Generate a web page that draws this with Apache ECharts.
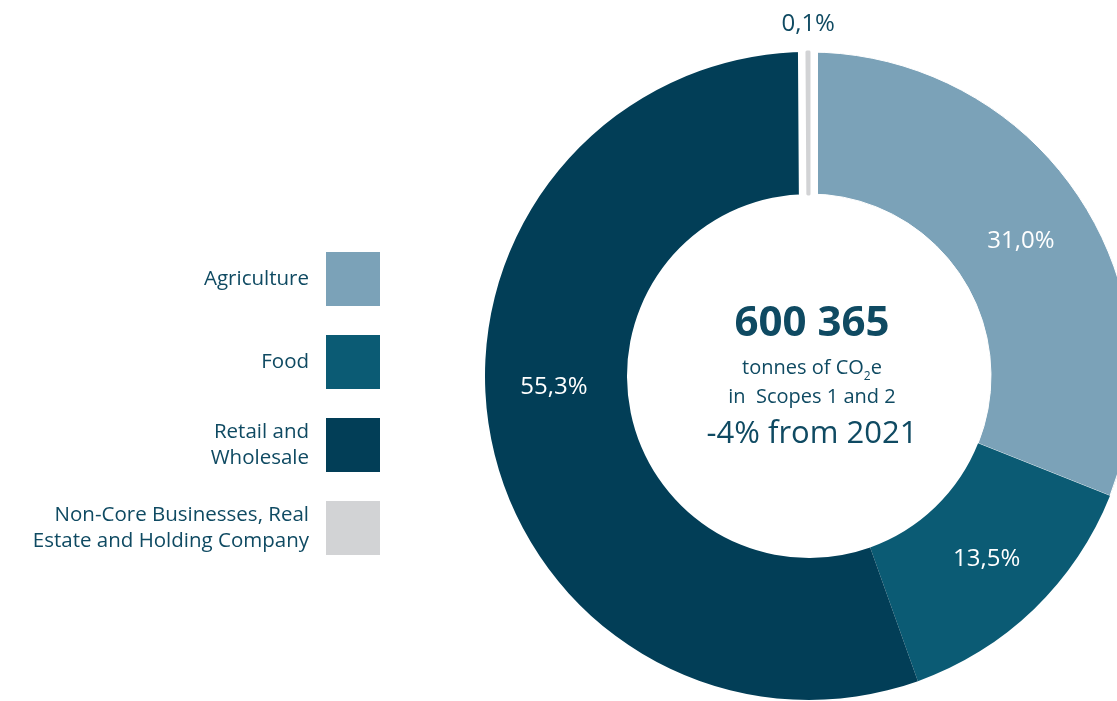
<!DOCTYPE html>
<html>
<head>
<meta charset="utf-8">
<style>
  html, body { margin: 0; padding: 0; background: #ffffff; }
  #chart { width: 1117px; height: 701px; }
</style>
<script src="https://cdn.jsdelivr.net/npm/echarts@6/dist/echarts.min.js"></script>
</head>
<body>
<div id="chart"></div>
<script>
// Scope 1 and 2 emissions by business area (share of total, %)
const categories = [
  'Agriculture',
  'Food',
  'Retail and\nWholesale',
  'Non-Core Businesses, Real\nEstate and Holding Company'
];
const shares = [31.0, 13.5, 55.3, 0.1];
const sliceColors = ['#7ba2b8', '#0b5b74', '#023e57', '#d2d3d5'];

const totalTonnes = '600 365';
const changeText = '-4% from 2021';

const FONT = '"Open Sans", Lato, sans-serif';
const TEXT_DARK = '#0f4a62';

const fmtPct = v => v.toFixed(1).replace('.', ',') + '%';

// label nudges per slice (dx, dy)
const labelNudge = [[0, 9], [0, -1], [-3, -33], [0, -96]];

const mainData = categories.map((name, i) => {
  const item = { name, value: shares[i], itemStyle: { color: sliceColors[i] } };
  if (i === 0) {
    item.itemStyle.borderColor = '#ffffff';
    item.itemStyle.borderWidth = 1;
  }
  if (i === categories.length - 1) {
    // wide white band that separates the small slice from its neighbours
    item.itemStyle.borderColor = '#ffffff';
    item.itemStyle.borderWidth = 18;
    item.label = { color: TEXT_DARK };
  }
  return item;
});

// overlay: only the small slice is painted, as a narrow strip
const overlayData = categories.map((name, i) => {
  const last = i === categories.length - 1;
  return {
    name,
    value: shares[i],
    itemStyle: last
      ? { color: sliceColors[i], borderColor: sliceColors[i], borderWidth: 3 }
      : { color: 'rgba(0,0,0,0)', borderWidth: 0 }
  };
});

const chart = echarts.init(document.getElementById('chart'), null, { renderer: 'canvas' });

chart.setOption({
  animation: false,
  backgroundColor: '#ffffff',
  legend: {
    orient: 'vertical',
    left: 4,
    top: 247,
    align: 'right',
    icon: 'rect',
    itemWidth: 54,
    itemHeight: 54,
    itemGap: 29,
    selectedMode: false,
    itemStyle: { borderWidth: 0 },
    data: categories,
    textStyle: {
      fontFamily: FONT,
      fontSize: 20.5,
      lineHeight: 26,
      color: TEXT_DARK,
      width: 300,
      align: 'right',
      padding: [2, 12, 0, 0]
    }
  },
  graphic: [
    {
      type: 'text',
      x: 812, y: 324,
      style: {
        text: totalTonnes,
        fontFamily: FONT, fontSize: 42, fontWeight: 'bold',
        fill: TEXT_DARK, align: 'center', verticalAlign: 'middle'
      }
    },
    {
      type: 'text',
      x: 812, y: 368,
      style: {
        text: '{a|tonnes of CO}{s|2}{a|e}',
        align: 'center', verticalAlign: 'middle',
        rich: {
          a: { fontFamily: FONT, fontSize: 20, fill: TEXT_DARK, lineHeight: 24, verticalAlign: 'middle' },
          s: { fontFamily: FONT, fontSize: 12, fill: TEXT_DARK, lineHeight: 24, verticalAlign: 'bottom', padding: [0, 0, -3, 0] }
        }
      }
    },
    {
      type: 'text',
      x: 812, y: 397,
      style: {
        text: 'in  Scopes 1 and 2',
        fontFamily: FONT, fontSize: 20,
        fill: TEXT_DARK, align: 'center', verticalAlign: 'middle'
      }
    },
    {
      type: 'text',
      x: 812, y: 434,
      style: {
        text: changeText,
        fontFamily: FONT, fontSize: 31,
        fill: TEXT_DARK, align: 'center', verticalAlign: 'middle'
      }
    }
  ],
  series: [
    {
      name: 'Emissions',
      type: 'pie',
      center: [809, 376],
      radius: [182, 324],
      startAngle: 90,
      clockwise: true,
      avoidLabelOverlap: false,
      emphasis: { disabled: true },
      label: {
        show: true,
        position: 'inside',
        formatter: p => fmtPct(p.value),
        fontFamily: FONT,
        fontSize: 24,
        color: '#ffffff'
      },
      labelLine: { show: false },
      labelLayout: p => {
        const n = labelNudge[p.dataIndex] || [0, 0];
        return { dx: n[0], dy: n[1] };
      },
      data: mainData
    },
    {
      name: 'Strip',
      type: 'pie',
      center: [809, 376],
      radius: [182, 324],
      startAngle: 90,
      clockwise: true,
      silent: true,
      emphasis: { disabled: true },
      label: { show: false },
      labelLine: { show: false },
      data: overlayData
    }
  ]
});
</script>
</body>
</html>
